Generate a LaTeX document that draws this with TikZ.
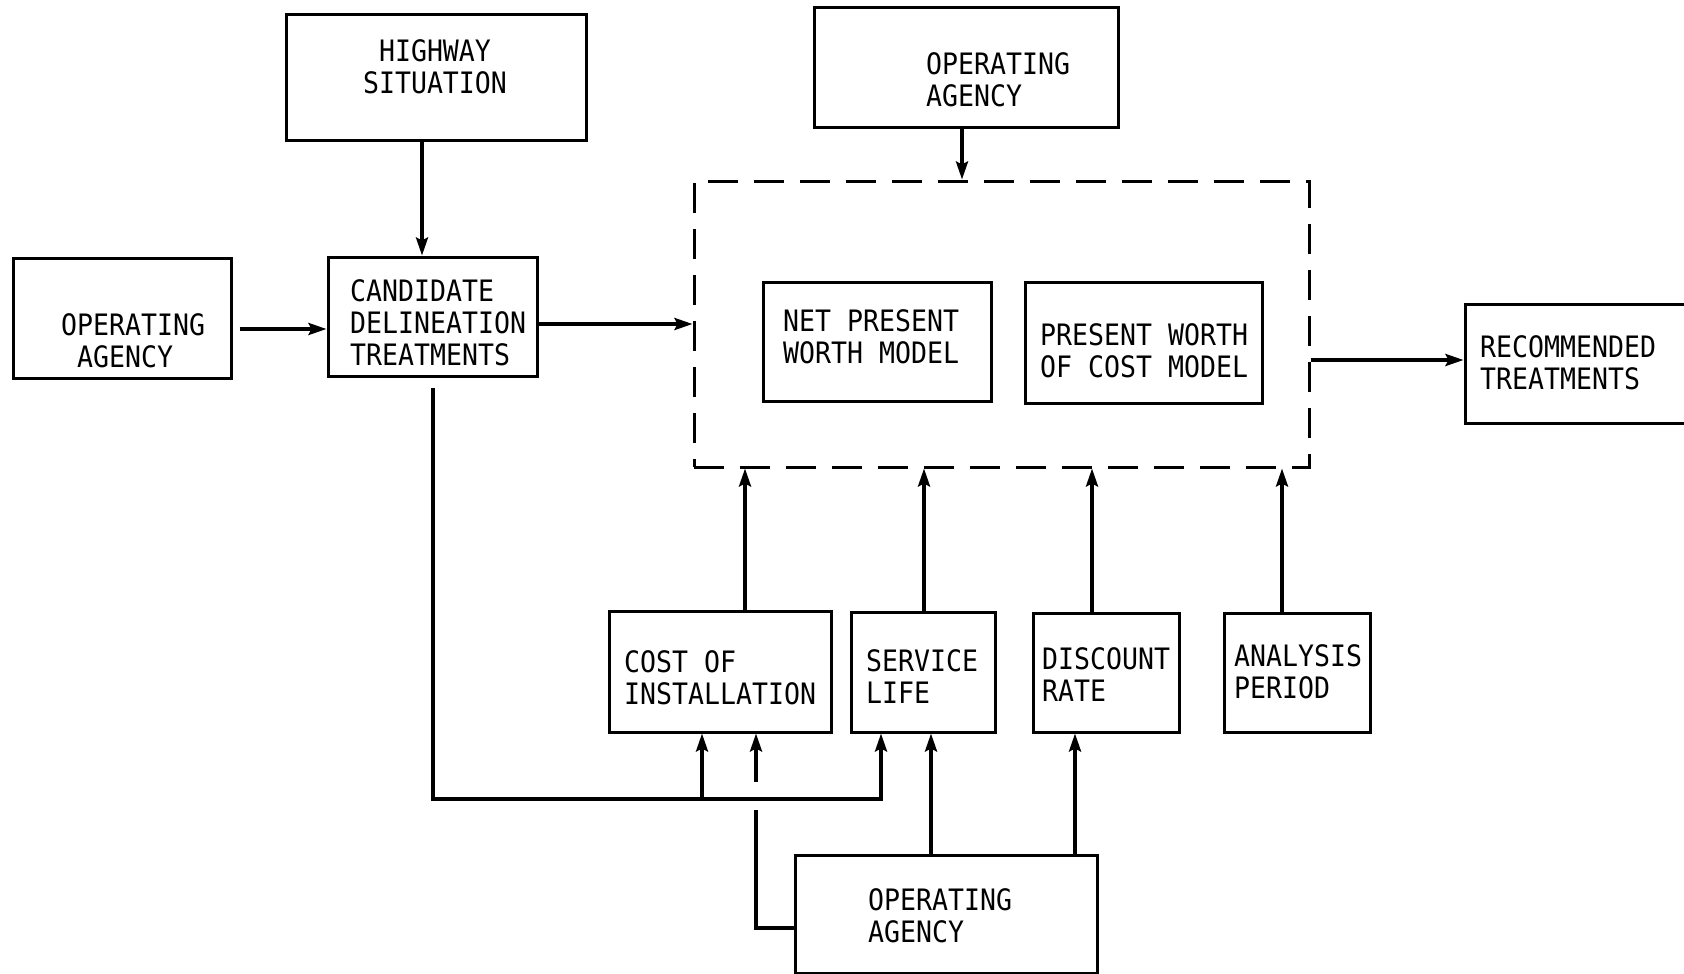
\documentclass[tikz,border=0pt]{standalone}
\usepackage{fontspec}
\newfontfamily\tw[FakeStretch=0.9]{DejaVu Sans Mono}
\usetikzlibrary{arrows.meta}
\begin{document}
\begin{tikzpicture}[x=1pt,y=-1pt,
  box/.style={draw, line width=3pt, inner sep=0pt},
  dashbox/.style={draw, line width=3pt, inner sep=0pt, dash pattern=on 30pt off 16pt},
  txt/.style={font=\tw\fontsize{29.5pt}{32pt}\selectfont, inner sep=0pt, align=left, anchor=west},
  wire/.style={line width=3.4pt},
  arr/.style={line width=3.4pt, -{Stealth[length=18pt,width=12pt,inset=3pt]}}]
\useasboundingbox (0,0) rectangle (1684,974);
% boxes
\node[box, minimum width=300pt, minimum height=125pt] (hw)   at (436,77.5) {};
\node[box, minimum width=218pt, minimum height=120pt] (oaL)  at (122,318) {};
\node[box, minimum width=209pt, minimum height=119pt] (cand) at (432.5,316.5) {};
\node[box, minimum width=304pt, minimum height=119pt] (oaT)  at (966,67.5) {};
\node[dashbox, minimum width=615pt, minimum height=286pt] (dash) at (1001.5,324) {};
\node[box, minimum width=228pt, minimum height=119pt] (npw)  at (877,341.5) {};
\node[box, minimum width=237pt, minimum height=121pt] (pwc)  at (1143.5,342.5) {};
\node[box, minimum width=220pt, minimum height=119pt] (rec)  at (1575,363.5) {};
\node[box, minimum width=222pt, minimum height=121pt] (cost) at (720,671.5) {};
\node[box, minimum width=144pt, minimum height=120pt] (serv) at (923,672) {};
\node[box, minimum width=146pt, minimum height=119pt] (disc) at (1106,672.5) {};
\node[box, minimum width=146pt, minimum height=119pt] (anal) at (1297,672.5) {};
\node[box, minimum width=302pt, minimum height=118pt] (oaB)  at (946,914) {};
% texts
\node[txt, anchor=center, align=center] (t1) at (435,67) {HIGHWAY\\SITUATION};
\node[txt] (t2) at (61,341) {OPERATING\\\hspace*{16pt}AGENCY};
\node[txt] (t3) at (350,323) {CANDIDATE\\DELINEATION\\TREATMENTS};
\node[txt] (t4) at (926,80) {OPERATING\\AGENCY};
\node[txt] (t5) at (783,337) {NET PRESENT\\WORTH MODEL};
\node[txt] (t6) at (1040,351) {PRESENT WORTH\\OF COST MODEL};
\node[txt] (t7) at (1480,363) {RECOMMENDED\\TREATMENTS};
\node[txt] (t8) at (624,678) {COST OF\\INSTALLATION};
\node[txt] (t9) at (866,677) {SERVICE\\LIFE};
\node[txt] (t10) at (1042,675) {DISCOUNT\\RATE};
\node[txt] (t11) at (1234,672) {ANALYSIS\\PERIOD};
\node[txt] (t12) at (868,916) {OPERATING\\AGENCY};
% column coordinates
\coordinate (xh) at (422,0);
\coordinate (xt) at (962,0);
\coordinate (c1) at (745,0);
\coordinate (c2) at (924,0);
\coordinate (c3) at (1092,0);
\coordinate (c4) at (1282,0);
\coordinate (kA) at (433,799);
\coordinate (kB) at (881,799);
\coordinate (kC) at (702,799);
\coordinate (hT) at (756,782);
\coordinate (hB) at (756,810);
\coordinate (b1) at (931,0);
\coordinate (b2) at (1075,0);
% connectors
\draw[arr] (hw.south -| xh) -- (cand.north -| xh);
\draw[arr] ([shift={(7,11)}]oaL.east) -- ([shift={(0,12.5)}]cand.west);
\draw[arr] ([shift={(0,7.5)}]cand.east) -- (dash.west);
\draw[arr] (oaT.south -| xt) -- (dash.north -| xt);
\draw[arr] ([shift={(0,36)}]dash.east) -- ([shift={(0,-3.5)}]rec.west);
\draw[arr] (cost.north -| c1) -- (dash.south -| c1);
\draw[arr] (serv.north -| c2) -- (dash.south -| c2);
\draw[arr] (disc.north -| c3) -- (dash.south -| c3);
\draw[arr] (anal.north -| c4) -- (dash.south -| c4);
\draw[arr] ([shift={(0,10)}]cand.south -| kA) -- (kA) -- (kB) -- (serv.south -| kB);
\draw[arr] (kC) -- (cost.south -| kC);
\draw[wire] ([shift={(0,14)}]oaB.west) -| (hB);
\draw[arr] (hT) -- (cost.south -| hT);
\draw[arr] (oaB.north -| b1) -- (serv.south -| b1);
\draw[arr] (oaB.north -| b2) -- (disc.south -| b2);
\end{tikzpicture}
\end{document}
